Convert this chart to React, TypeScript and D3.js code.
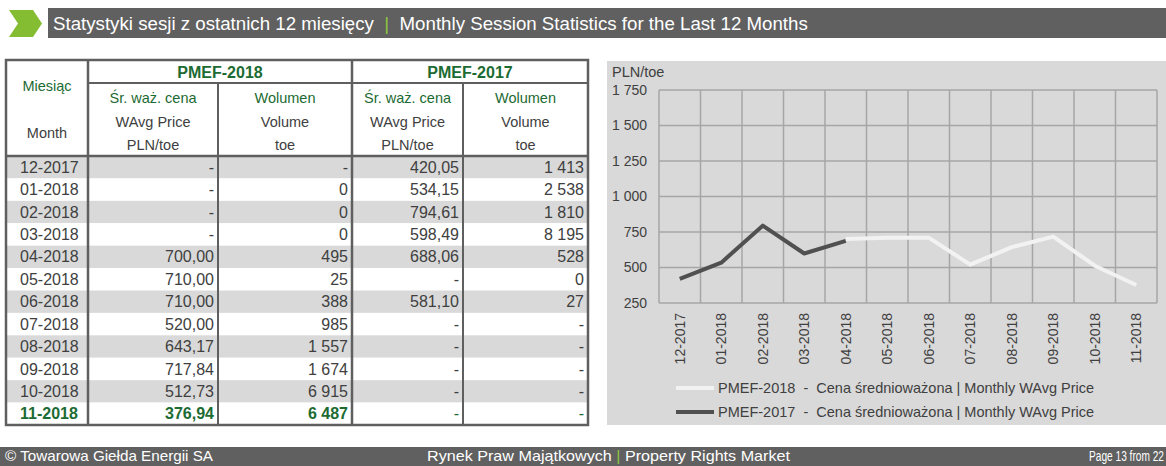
import React, { useEffect, useRef } from 'react';
import * as d3 from 'd3';

const months = ['12-2017', '01-2018', '02-2018', '03-2018', '04-2018', '05-2018', '06-2018', '07-2018', '08-2018', '09-2018', '10-2018', '11-2018'];
const price2018: (number | null)[] = [null, null, null, null, 700.0, 710.0, 710.0, 520.0, 643.17, 717.84, 512.73, 376.94];
const volume2018: (number | null)[] = [null, 0, 0, 0, 495, 25, 388, 985, 1557, 1674, 6915, 6487];
const price2017: (number | null)[] = [420.05, 534.15, 794.61, 598.49, 688.06, null, 581.1, null, null, null, null, null];
const volume2017: (number | null)[] = [1413, 2538, 1810, 8195, 528, 0, 27, null, null, null, null, null];
const yTicks = [250, 500, 750, 1000, 1250, 1500, 1750];

const FONT = 'Liberation Sans, Arial, sans-serif';
const GREEN = '#1c6b32';
const TEXT = '#404040';

const pl = d3.formatLocale({ decimal: ',', thousands: '\u00a0', grouping: [3], currency: ['', ''] });
const fmtPrice = (v: number | null) => (v == null ? '-' : pl.format(',.2f')(v));
const fmtVol = (v: number | null) => (v == null ? '-' : pl.format(',d')(v));
const fmtTick = pl.format(',d');

export default function App() {
    const ref = useRef<SVGSVGElement>(null);

    useEffect(() => {
        const svg = d3.select(ref.current);
        svg.selectAll('*').remove();

        // title bar
        svg.append('polygon')
            .attr('points', '9,10 33,10 42,23.5 33,37 9,37 18,23.5')
            .attr('fill', '#84bd32');
        svg.append('rect').attr('x', 48).attr('y', 8).attr('width', 1118).attr('height', 30).attr('fill', '#606060');
        const title = svg.append('text')
            .attr('x', 53).attr('y', 23).attr('dy', '0.35em')
            .attr('font-family', FONT).attr('font-size', 18.7).attr('fill', '#ffffff')
            .style('white-space', 'pre');
        title.append('tspan').text('Statystyki sesji z ostatnich 12 miesięcy  ');
        title.append('tspan').attr('fill', '#8dc63f').text('|');
        title.append('tspan').text('  Monthly Session Statistics for the Last 12 Months');

        // footer bar
        svg.append('rect').attr('x', 0).attr('y', 447).attr('width', 1166).attr('height', 19).attr('fill', '#606060');
        const foot = svg.append('g').attr('font-family', FONT).attr('font-size', 14.5).attr('fill', '#ffffff')
            .style('white-space', 'pre');
        foot.append('text').attr('x', 5).attr('y', 456).attr('dy', '0.35em')
            .attr('textLength', 208).attr('lengthAdjust', 'spacingAndGlyphs')
            .text('© Towarowa Giełda Energii SA');
        const mid = foot.append('text').attr('x', 427).attr('y', 456).attr('dy', '0.35em')
            .attr('textLength', 363).attr('lengthAdjust', 'spacingAndGlyphs');
        mid.append('tspan').text('Rynek Praw Majątkowych  ');
        mid.append('tspan').attr('fill', '#8dc63f').text('|');
        mid.append('tspan').text('  Property Rights Market');
        foot.append('text')
            .attr('transform', 'translate(1089,456) scale(0.7,1)')
            .attr('dy', '0.35em')
            .text('Page 13 from 22');

        // ---------------- table ----------------
        const colX = [6, 88, 218, 352, 463, 588];
        const top = 60, midLine = 83, headBottom = 156, bottom = 425;
        const rowH = (bottom - headBottom) / months.length;
        const table = svg.append('g').attr('font-family', FONT);

        table.selectAll('rect.row')
            .data(months)
            .join('rect')
            .attr('class', 'row')
            .attr('x', colX[0]).attr('width', colX[5] - colX[0])
            .attr('y', (d, i) => headBottom + i * rowH)
            .attr('height', rowH)
            .attr('fill', (d, i) => (i % 2 === 0 ? '#d9d9d9' : '#ffffff'));

        const columns = [
            months.map((m) => m),
            price2018.map(fmtPrice),
            volume2018.map(fmtVol),
            price2017.map(fmtPrice),
            volume2017.map(fmtVol),
        ];
        columns.forEach((col, c) => {
            table.append('g').selectAll('text')
                .data(col)
                .join('text')
                .attr('x', c === 0 ? colX[0] + 14 : colX[c + 1] - 4)
                .attr('y', (d, i) => headBottom + (i + 0.5) * rowH)
                .attr('dy', '0.35em')
                .attr('text-anchor', c === 0 ? 'start' : 'end')
                .attr('font-size', 16)
                .attr('font-weight', (d, i) => (i === months.length - 1 && c < 3 ? 'bold' : 'normal'))
                .attr('fill', (d, i) => (i === months.length - 1 ? GREEN : TEXT))
                .text((d) => d);
        });

        // header texts
        const hdr = table.append('g').attr('text-anchor', 'middle');
        hdr.append('text').attr('x', (colX[0] + colX[1]) / 2).attr('y', 86).attr('dy', '0.35em')
            .attr('font-size', 14.5).attr('fill', GREEN).text('Miesiąc');
        hdr.append('text').attr('x', (colX[0] + colX[1]) / 2).attr('y', 133).attr('dy', '0.35em')
            .attr('font-size', 14.5).attr('fill', TEXT).text('Month');
        hdr.append('text').attr('x', (colX[1] + colX[3]) / 2).attr('y', 72).attr('dy', '0.35em')
            .attr('font-size', 16).attr('font-weight', 'bold').attr('fill', GREEN).text('PMEF-2018');
        hdr.append('text').attr('x', (colX[3] + colX[5]) / 2).attr('y', 72).attr('dy', '0.35em')
            .attr('font-size', 16).attr('font-weight', 'bold').attr('fill', GREEN).text('PMEF-2017');
        const sub = [
            ['Śr. waż. cena', 'WAvg Price', 'PLN/toe'],
            ['Wolumen', 'Volume', 'toe'],
        ];
        [1, 2, 3, 4].forEach((c) => {
            const lines = sub[(c - 1) % 2];
            lines.forEach((t, k) => {
                hdr.append('text')
                    .attr('x', (colX[c] + colX[c + 1]) / 2)
                    .attr('y', 98 + k * 23.5)
                    .attr('dy', '0.35em')
                    .attr('font-size', 14.5)
                    .attr('fill', k === 0 ? GREEN : TEXT)
                    .text(t);
            });
        });

        // table lines
        const lines = table.append('g').attr('stroke', '#5f5f5f').attr('fill', 'none');
        lines.append('rect').attr('x', colX[0]).attr('y', top).attr('width', colX[5] - colX[0]).attr('height', bottom - top).attr('stroke-width', 2.5);
        lines.append('line').attr('x1', colX[1]).attr('x2', colX[5]).attr('y1', midLine).attr('y2', midLine).attr('stroke-width', 2);
        lines.append('line').attr('x1', colX[0]).attr('x2', colX[5]).attr('y1', headBottom).attr('y2', headBottom).attr('stroke-width', 2.5);
        [1, 3].forEach((c) => {
            lines.append('line').attr('x1', colX[c]).attr('x2', colX[c]).attr('y1', top).attr('y2', bottom).attr('stroke-width', 2.5);
        });
        [2, 4].forEach((c) => {
            lines.append('line').attr('x1', colX[c]).attr('x2', colX[c]).attr('y1', midLine).attr('y2', bottom).attr('stroke-width', 2);
        });

        // ---------------- chart ----------------
        svg.append('rect').attr('x', 607).attr('y', 61).attr('width', 559).attr('height', 364).attr('fill', '#d9d9d9');

        const plot = { left: 659, right: 1157, top: 90, bottom: 303 };
        const x = d3.scaleBand().domain(months).range([plot.left, plot.right]);
        const y = d3.scaleLinear().domain([250, 1750]).range([plot.bottom, plot.top]);
        const chart = svg.append('g').attr('font-family', FONT).attr('fill', TEXT);

        // grid
        const grid = chart.append('g').attr('stroke', '#a6a6a6').attr('stroke-width', 1.5);
        grid.selectAll('line.h').data(yTicks).join('line').attr('class', 'h')
            .attr('x1', plot.left).attr('x2', plot.right)
            .attr('y1', (d) => y(d)).attr('y2', (d) => y(d));
        grid.selectAll('line.v').data(months.concat(['end'])).join('line').attr('class', 'v')
            .attr('x1', (d, i) => plot.left + i * x.step()).attr('x2', (d, i) => plot.left + i * x.step())
            .attr('y1', plot.top).attr('y2', plot.bottom);

        // y axis labels
        chart.append('g').selectAll('text').data(yTicks).join('text')
            .attr('x', 647).attr('y', (d) => y(d)).attr('dy', '0.35em')
            .attr('text-anchor', 'end').attr('font-size', 14)
            .text((d) => fmtTick(d));
        chart.append('text').attr('x', 612).attr('y', 72).attr('dy', '0.35em').attr('font-size', 14.5).text('PLN/toe');

        // x axis labels
        chart.append('g').selectAll('text').data(months).join('text')
            .attr('transform', (d) => `translate(${x(d)! + x.bandwidth() / 2},313) rotate(-90)`)
            .attr('dy', '0.35em').attr('text-anchor', 'end').attr('font-size', 14)
            .text((d) => d);

        // lines
        const line = d3.line<number | null>()
            .defined((d) => d != null)
            .x((d, i) => x(months[i])! + x.bandwidth() / 2)
            .y((d) => y(d as number));
        chart.append('path').datum(price2018).attr('d', line)
            .attr('fill', 'none').attr('stroke', '#f2f2f2').attr('stroke-width', 4).attr('stroke-linejoin', 'round');
        chart.append('path').datum(price2017).attr('d', line)
            .attr('fill', 'none').attr('stroke', '#505050').attr('stroke-width', 4).attr('stroke-linejoin', 'round');

        // legend
        const legend = [
            { label: 'PMEF-2018  -  Cena średnioważona | Monthly WAvg Price', color: '#f2f2f2' },
            { label: 'PMEF-2017  -  Cena średnioważona | Monthly WAvg Price', color: '#505050' },
        ];
        const lg = chart.append('g').selectAll('g').data(legend).join('g')
            .attr('transform', (d, i) => `translate(676,${388 + i * 24})`);
        lg.append('line').attr('x1', 0).attr('x2', 38).attr('stroke', (d) => d.color).attr('stroke-width', 4);
        lg.append('text').attr('x', 42).attr('dy', '0.35em').attr('font-size', 14.5).style('white-space', 'pre').text((d) => d.label);
    }, []);

    return (
        <svg ref={ref} width={1166} height={466} style={{ position: 'absolute', left: 0, top: 0, background: '#ffffff' }} />
    );
}
